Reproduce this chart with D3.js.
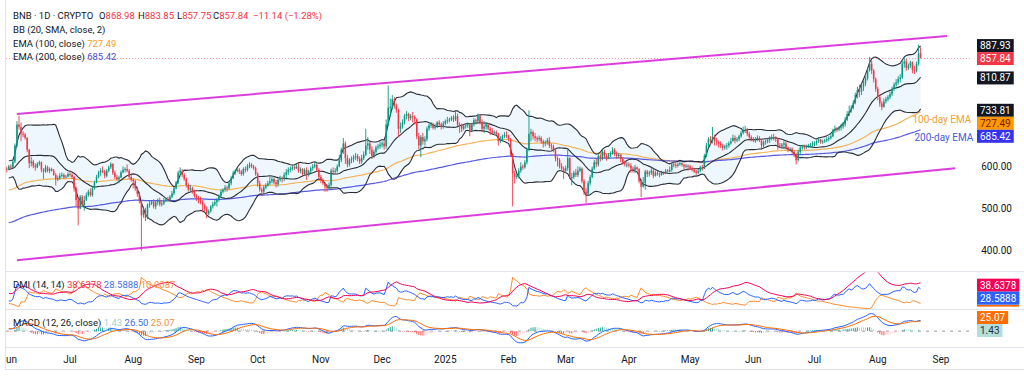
<!DOCTYPE html>
<html>
<head>
<meta charset="utf-8">
<script src="https://cdnjs.cloudflare.com/ajax/libs/d3/7.8.5/d3.min.js"></script>
<style>
html,body{margin:0;padding:0;background:#fff;}
svg{display:block;font-family:Roboto,"Noto Sans","DejaVu Sans",sans-serif;}
</style>
</head>
<body>
<svg id="chart" width="1024" height="376"></svg>
<script>
// ================= DATA =================
const startDate = "2024-05-01";   // first daily bar (May 2024 is warm-up, mostly off-screen)
const firstDrawn = "2024-06-01";
const firstOpen = 578;
const closes = [
 560,570,590,593,590,590,580,585,590,580,580,585,585,575,595,575,585,580,575,610,605,600,595,598,600,597,605,600,596,595,593,
 600,598,612,650,700,694,678,676,668,640,608,612,602,598,606,610,592,588,598,590,594,590,580,570,572,578,580,574,576,582,
 580,575,548,520,500,528,508,520,532,540,532,548,562,575,586,590,588,578,590,598,606,585,575,570,574,586,592,594,590,575,568,
 565,548,535,518,484,496,478,508,512,516,505,515,520,510,512,518,522,520,528,536,548,562,585,590,580,570,556,545,548,540,530,
 525,520,516,508,500,488,494,505,510,515,520,530,540,545,550,548,560,572,585,590,592,588,582,594,592,600,604,600,596,582,
 560,545,540,550,555,560,565,570,562,558,568,572,570,580,586,592,594,598,596,600,590,594,582,592,580,588,596,600,604,592,575,
 568,560,552,548,556,590,588,590,600,615,640,655,620,605,615,618,622,625,618,612,620,628,650,655,640,625,635,645,648,652,
 655,648,700,740,742,760,745,735,690,695,705,720,725,715,720,718,712,672,650,670,660,665,690,698,700,692,695,705,700,694,702,
 708,710,712,716,712,720,700,698,690,696,698,700,685,700,710,708,720,705,690,695,700,690,685,680,682,678,660,665,672,675,672,
 665,630,584,575,578,590,600,598,610,640,678,682,672,668,665,668,660,655,658,662,650,648,640,620,615,600,595,590,
 596,620,575,575,585,580,590,595,565,540,535,560,575,595,610,605,625,620,635,625,620,626,632,640,630,625,628,618,610,605,605,
 602,595,592,598,594,565,552,560,588,582,585,590,578,585,582,580,585,584,590,588,592,605,604,602,605,608,604,600,602,600,
 595,592,588,585,590,598,595,625,650,665,660,670,662,658,655,650,645,648,650,655,660,668,662,665,672,680,685,688,678,670,665,
 662,665,668,662,650,658,660,664,668,670,668,665,650,648,652,655,645,640,642,635,628,615,635,645,648,645,648,650,652,655,
 655,660,664,658,660,662,665,668,672,685,690,688,692,695,700,712,725,732,740,752,770,782,778,790,798,810,830,845,828,808,785,
 765,750,742,755,760,765,772,785,795,800,808,812,845,850,835,840,848,830,828,845,868.98,857.84
];
const highs = [
 582,575,592,598,596,602,594,590,594,595,584,588,590,588,598,597,590,588,583,612,618,610,605,602,604,603,610,608,604,600,600,
 604,605,616,655,708,721,705,684,680,670,642,622,616,608,610,614,612,596,604,602,598,597,594,584,578,584,586,584,580,586,
 590,584,578,552,524,532,532,530,538,545,548,552,566,580,590,596,600,592,594,602,610,608,590,580,578,590,600,598,605,594,580,
 572,568,552,540,520,505,502,512,520,520,522,520,524,526,520,525,526,528,532,542,552,566,590,598,594,584,574,560,556,552,545,
 534,530,528,520,512,505,498,508,516,520,524,534,545,548,556,554,565,578,590,594,596,596,592,598,600,606,610,608,604,600,
 586,566,550,555,560,566,575,575,574,568,572,578,576,586,594,598,600,604,602,606,608,598,596,596,598,592,600,606,612,608,596,
 580,572,562,558,562,595,598,596,605,628,645,668,660,628,620,624,628,632,630,624,628,636,690,670,662,648,640,650,654,660,
 660,662,712,793,762,770,765,750,738,705,712,725,732,728,725,730,722,715,680,675,680,672,695,702,706,704,702,708,710,705,708,
 712,718,716,720,722,734,726,705,702,700,702,705,702,704,715,714,726,724,712,708,705,704,694,692,686,686,680,672,676,682,684,
 676,668,632,590,586,596,610,605,615,645,734,690,686,680,672,674,672,664,662,668,670,655,652,644,624,620,608,600,
 602,640,622,585,590,594,600,600,598,570,548,566,580,600,616,618,630,630,640,640,630,632,636,646,644,636,632,630,622,614,612,
 610,608,600,604,600,596,570,575,592,592,590,596,594,590,590,586,590,588,594,594,600,610,612,608,610,612,610,606,606,605,
 604,600,594,592,594,602,604,630,656,670,672,694,676,668,662,660,654,652,656,660,668,676,674,670,676,685,695,697,692,682,674,
 670,670,674,672,666,662,664,668,672,676,678,672,668,656,656,662,660,648,646,646,638,632,640,650,652,652,652,654,656,660,
 660,664,670,666,664,666,670,672,678,690,698,694,696,702,706,718,732,745,746,758,776,790,795,798,805,815,836,861,852,832,812,
 790,770,755,762,766,770,778,790,800,808,815,820,852,861,856,845,852,850,840,850,890,883.85
];
const lows = [
 545,555,568,586,585,584,578,576,580,575,575,577,578,570,572,572,573,578,570,572,600,596,585,590,595,594,595,592,590,588,586,
 591,594,596,608,646,688,660,670,664,634,596,600,596,590,596,602,586,570,585,586,584,588,578,555,565,568,574,570,572,574,
 576,570,540,505,460,498,505,495,518,528,528,528,545,560,572,578,584,572,574,586,594,580,570,566,560,572,584,586,586,570,564,
 548,542,528,512,400,478,470,474,502,508,500,498,508,505,505,508,515,516,515,524,532,545,558,580,575,566,550,540,540,535,526,
 518,512,510,492,494,477,484,490,500,506,505,516,526,536,540,540,545,555,570,580,586,582,578,578,586,588,596,596,592,578,
 552,540,530,536,546,552,556,560,558,550,552,564,562,565,572,580,586,590,592,594,585,584,578,578,568,576,584,590,596,588,570,
 560,556,540,540,544,552,580,582,586,598,610,630,606,598,600,608,610,615,612,606,606,615,625,640,630,618,620,630,640,642,
 645,640,642,695,718,735,738,728,670,680,690,700,712,708,710,705,700,665,640,622,652,650,660,685,692,688,688,692,695,688,690,
 698,702,705,708,706,708,695,680,682,686,690,692,672,684,695,700,704,700,682,680,688,686,675,676,676,674,650,656,660,668,668,
 660,625,505,560,570,572,585,592,595,605,636,660,664,660,658,660,654,645,648,652,644,640,634,612,600,595,590,570,
 585,590,570,555,570,575,575,586,560,532,513,530,555,572,592,598,600,612,615,620,614,618,622,628,625,618,620,610,604,600,598,
 598,585,585,584,590,560,527,550,545,575,576,580,572,576,578,574,578,580,582,584,586,588,598,596,598,602,600,594,596,590,
 592,588,584,580,582,586,590,594,622,645,652,655,650,650,645,644,638,640,640,645,652,660,655,658,660,668,676,680,672,662,660,
 658,656,660,658,640,645,652,655,656,662,662,658,640,644,644,646,640,634,636,630,622,605,612,630,640,640,642,644,646,648,
 648,650,656,654,654,656,658,660,664,670,680,682,684,686,690,695,708,720,728,736,748,762,765,770,780,792,805,826,820,800,778,
 758,742,734,740,750,755,760,768,780,790,795,800,808,835,828,830,835,822,820,824,840,857.75
];
const ema100Start = 544;   // EMA(100) value on the first drawn day
const ema200Start = 466;   // EMA(200) value on the first drawn day
const channelTopPts = [["2024-06-05", 725], ["2025-09-04", 911]];
const channelBottomPts = [["2024-06-05", 377], ["2025-09-08", 596]];
const monthTicks = ["2024-06-01","2024-07-01","2024-08-01","2024-09-01","2024-10-01","2024-11-01","2024-12-01","2025-01-01","2025-02-01","2025-03-01","2025-04-01","2025-05-01","2025-06-01","2025-07-01","2025-08-01","2025-09-01"];
const monthLabels = ["Jun","Jul","Aug","Sep","Oct","Nov","Dec","2025","Feb","Mar","Apr","May","Jun","Jul","Aug","Sep"];
const priceTicks = [400, 500, 600];
const ohlcLetters = ["O","H","L","C"];
const ohlcValues = ["868.98","883.85","857.75","857.84"];
const changeText = "\u221211.14 (\u22121.28%)";
const bbLast = [887.93, 810.87, 733.81];      // upper, basis, lower
const lastClose = 857.84;
const emaLast = [727.49, 685.42];             // EMA100, EMA200
const dmiLast = ["38.6378","28.5888","10.0087"];  // ADX, +DI, -DI
const macdLast = ["1.43","26.50","25.07"];        // histogram, MACD, signal
const annotTexts = ["100-day EMA","200-day EMA"];
const annotDates = ["2025-08-18","2025-08-19"];
const annotPrices = [711, 670];

// ================= COMPUTE =================
const parseD = d3.utcParse("%Y-%m-%d");
const t0 = parseD(startDate).getTime();
const N = Math.min(closes.length, highs.length, lows.length);
const bars = d3.range(N).map(i => ({
  date: new Date(t0 + i * 864e5),
  o: i ? closes[i-1] : firstOpen, h: highs[i], l: lows[i], c: closes[i]
}));
const i0 = d3.bisector(d => d.date).left(bars, parseD(firstDrawn));
const C = bars.map(d => d.c);

function emaFrom(vals, n, start, seed) {
  const a = 2 / (n + 1), out = new Array(vals.length).fill(null);
  let e = seed;
  for (let i = start; i < vals.length; i++) { if (i > start) e += a * (vals[i] - e); out[i] = e; }
  return out;
}
function rma(vals, n) {
  const out = []; let p = null;
  vals.forEach(v => { p = p === null ? v : (p * (n - 1) + v) / n; out.push(p); });
  return out;
}
const ema100 = emaFrom(C, 100, i0, ema100Start);
const ema200 = emaFrom(C, 200, i0, ema200Start);
const bbMid = [], bbUp = [], bbLo = [];
C.forEach((c, i) => {
  if (i < 19) { bbMid.push(null); bbUp.push(null); bbLo.push(null); return; }
  const s = C.slice(i - 19, i + 1), m = d3.mean(s);
  const sd = Math.sqrt(d3.mean(s, v => (v - m) * (v - m)));
  bbMid.push(m); bbUp.push(m + 2 * sd); bbLo.push(m - 2 * sd);
});
// MACD
const e12 = emaFrom(C, 12, 0, C[0]), e26 = emaFrom(C, 26, 0, C[0]);
const macd = C.map((c, i) => e12[i] - e26[i]);
const signal = emaFrom(macd, 9, 0, macd[0]);
const hist = macd.map((m, i) => m - signal[i]);
// DMI
const tr = [], pdm = [], mdm = [];
bars.forEach((b, i) => {
  const pc = i ? bars[i-1].c : firstOpen;
  tr.push(Math.max(b.h - b.l, Math.abs(b.h - pc), Math.abs(b.l - pc)));
  const up = i ? b.h - bars[i-1].h : 0, dn = i ? bars[i-1].l - b.l : 0;
  pdm.push(up > dn && up > 0 ? up : 0);
  mdm.push(dn > up && dn > 0 ? dn : 0);
});
const trR = rma(tr, 14), pR = rma(pdm, 14), mR = rma(mdm, 14);
const plusDI = pR.map((v, i) => 100 * v / trR[i]);
const minusDI = mR.map((v, i) => 100 * v / trR[i]);
const adx = rma(plusDI.map((p, i) => { const s = p + minusDI[i]; return Math.abs(p - minusDI[i]) / (s === 0 ? 1 : s); }), 14).map(v => 100 * v);

// ================= SCALES =================
const svg = d3.select("#chart");
const plotL = 6, plotR = 972;
const x = d3.scaleUtc().domain([parseD("2024-07-01"), parseD("2025-09-01")]).range([70, 941]);
const y = d3.scaleLinear().domain([400, 900]).range([250.5, 40.5]);
const yD = d3.scaleLinear().domain([0, 59.5]).range([309.5, 272]);
const yM = d3.scaleLinear().domain([-40, 50]).range([348, 310]);

const defs = svg.append("defs");
function clip(id, y0, y1) {
  defs.append("clipPath").attr("id", id).append("rect").attr("x", plotL).attr("y", y0).attr("width", plotR - plotL).attr("height", y1 - y0);
  return "url(#" + id + ")";
}
const gMain = svg.append("g").attr("clip-path", clip("cm", 0, 271));
const gDmi = svg.append("g").attr("clip-path", clip("cd", 272.5, 309));
const gMacd = svg.append("g").attr("clip-path", clip("cmc", 310, 347));

// separators / frame
const sepCol = "#e0e3eb";
[271.5, 309.5, 347.5, 369.5].forEach(v => svg.append("line").attr("x1", 5).attr("x2", 1024).attr("y1", v).attr("y2", v).attr("stroke", sepCol));
svg.append("line").attr("x1", 5.5).attr("x2", 5.5).attr("y1", 0).attr("y2", 370).attr("stroke", sepCol);

const vis = bars.map((b, i) => i).filter(i => i >= i0 - 1);
const drawIdx = bars.map((b, i) => i).filter(i => i >= i0);
function lineOf(arr, sy) {
  return d3.line().defined(i => arr[i] != null).x(i => x(bars[i].date)).y(i => sy(arr[i]))(drawIdx);
}

// Bollinger fill
gMain.append("path")
  .attr("d", d3.area().x(i => x(bars[i].date)).y0(i => y(bbLo[i])).y1(i => y(bbUp[i]))(drawIdx))
  .attr("fill", "#2196f3").attr("fill-opacity", 0.08);
// EMAs
gMain.append("path").attr("d", lineOf(ema100, y)).attr("fill", "none").attr("stroke", "#f2b35a").attr("stroke-width", 1.2);
gMain.append("path").attr("d", lineOf(ema200, y)).attr("fill", "none").attr("stroke", "#5a5ae0").attr("stroke-width", 1.2);
// BB lines
[bbUp, bbMid, bbLo].forEach(a => gMain.append("path").attr("d", lineOf(a, y)).attr("fill", "none").attr("stroke", "#2a2e39").attr("stroke-width", 1.1));

// candles
const upCol = "#089981", dnCol = "#f23645", bw = 1.5;
const cg = gMain.append("g");
cg.selectAll("line").data(vis).join("line")
  .attr("x1", i => x(bars[i].date)).attr("x2", i => x(bars[i].date))
  .attr("y1", i => y(bars[i].h)).attr("y2", i => y(bars[i].l))
  .attr("stroke", i => bars[i].c >= bars[i].o ? upCol : dnCol).attr("stroke-width", 0.9);
cg.selectAll("rect").data(vis).join("rect")
  .attr("x", i => x(bars[i].date) - bw / 2).attr("width", bw)
  .attr("y", i => y(Math.max(bars[i].o, bars[i].c)))
  .attr("height", i => Math.max(1, Math.abs(y(bars[i].o) - y(bars[i].c))))
  .attr("fill", i => bars[i].c >= bars[i].o ? upCol : dnCol);

// price line
svg.append("line").attr("x1", plotL).attr("x2", plotR).attr("y1", Math.round(y(lastClose)) + 0.5).attr("y2", Math.round(y(lastClose)) + 0.5)
  .attr("stroke", "#f23645").attr("stroke-opacity", 0.5).attr("stroke-dasharray", "1,2");

// channel
[channelTopPts, channelBottomPts].forEach(pts => {
  svg.append("line")
    .attr("x1", x(parseD(pts[0][0]))).attr("y1", y(pts[0][1]))
    .attr("x2", x(parseD(pts[1][0]))).attr("y2", y(pts[1][1]))
    .attr("stroke", "#dd3ddd").attr("stroke-width", 2);
});

// annotations
const annotCols = ["#f0a030", "#4a5ad8"];
annotTexts.forEach((t, k) => svg.append("text").attr("x", x(parseD(annotDates[k]))).attr("y", y(annotPrices[k]) + 3.5)
  .attr("font-size", 10).attr("fill", annotCols[k]).text(t));

// DMI lines
gDmi.append("path").attr("d", lineOf(minusDI, yD)).attr("fill", "none").attr("stroke", "#ff8a2a").attr("stroke-width", 1);
gDmi.append("path").attr("d", lineOf(plusDI, yD)).attr("fill", "none").attr("stroke", "#2962ff").attr("stroke-width", 1);
gDmi.append("path").attr("d", lineOf(adx, yD)).attr("fill", "none").attr("stroke", "#f50057").attr("stroke-width", 1);

// MACD
gMacd.append("line").attr("x1", plotL).attr("x2", plotR).attr("y1", yM(0)).attr("y2", yM(0))
  .attr("stroke", "#9598a1").attr("stroke-dasharray", "3,5").attr("stroke-width", 1);
gMacd.selectAll("rect").data(drawIdx).join("rect")
  .attr("x", i => x(bars[i].date) - 0.5).attr("width", 1)
  .attr("y", i => Math.min(yM(0), yM(hist[i]))).attr("height", i => Math.max(0.5, Math.abs(yM(hist[i]) - yM(0))))
  .attr("fill", i => hist[i] >= 0 ? (hist[i] > hist[i-1] ? "#26a69a" : "#b2dfdb") : (hist[i] < hist[i-1] ? "#ff5252" : "#ffcdd2"));
gMacd.append("path").attr("d", lineOf(macd, yM)).attr("fill", "none").attr("stroke", "#2962ff").attr("stroke-width", 1);
gMacd.append("path").attr("d", lineOf(signal, yM)).attr("fill", "none").attr("stroke", "#ff6d00").attr("stroke-width", 1);

// ================= TEXT =================
const txtCol = "#131722", fs = 9.5;
function txt(xp, yp, s, col, size) {
  return svg.append("text").attr("x", xp).attr("y", yp).attr("font-size", size || fs).attr("fill", col || txtCol).text(s);
}
txt(13, 18.5, "BNB \u00b7 1D \u00b7 CRYPTO");
const ohlcX = [99, 138, 177, 213];
ohlcLetters.forEach((L, k) => {
  const t = txt(ohlcX[k], 18.5, L);
  t.append("tspan").attr("fill", "#f23645").text(ohlcValues[k]);
});
txt(253, 18.5, changeText, "#f23645");
txt(13, 33, "BB (20, SMA, close, 2)");
txt(13, 46.5, "EMA (100, close) ").append("tspan").attr("fill", "#f5a020").text(emaLast[0].toFixed(2));
txt(13, 60, "EMA (200, close) ").append("tspan").attr("fill", "#4b4bd8").text(emaLast[1].toFixed(2));
// DMI legend
const dl = txt(13, 287.5, "DMI (14, 14) ");
const dCols = ["#f23645", "#3f6fe8", "#f09040"];
dmiLast.forEach((v, k) => dl.append("tspan").attr("fill", dCols[k]).text((k ? "  " : "") + v));
const ml = txt(13, 325.5, "MACD (12, 26, close) ");
const mCols = ["#9fd3cc", "#3f6fe8", "#f09040"];
macdLast.forEach((v, k) => ml.append("tspan").attr("fill", mCols[k]).text((k ? "  " : "") + v));

// time axis
const ta = svg.append("g").attr("clip-path", clip("ct", 350, 370));
monthTicks.forEach((d, k) => ta.append("text").attr("x", x(parseD(d))).attr("y", 362.5).attr("text-anchor", "middle")
  .attr("font-size", 10).attr("fill", txtCol).text(monthLabels[k]));

// price axis labels
priceTicks.forEach(p => svg.append("text").attr("x", 1012).attr("y", y(p) + 3.5).attr("text-anchor", "end")
  .attr("font-size", 10).attr("fill", txtCol).text(p.toFixed(2)));

// badges
function badge(yc, label, bg, fg) {
  const g = svg.append("g");
  const r = g.append("rect").attr("x", 977).attr("y", yc - 6.5).attr("height", 13).attr("fill", bg);
  const t = g.append("text").attr("x", 980).attr("y", yc + 3.5).attr("font-size", 10).attr("fill", fg).text(label);
  r.attr("width", t.node().getComputedTextLength() + 6);
}
function stack(items, gap) {
  items.sort((a, b) => a.y - b.y);
  for (let k = 1; k < items.length; k++) if (items[k].y < items[k-1].y + gap) items[k].y = items[k-1].y + gap;
  return items;
}
stack([
  { v: bbLast[0], bg: "#131722", fg: "#fff" },
  { v: lastClose, bg: "#f23645", fg: "#fff" },
  { v: bbLast[1], bg: "#131722", fg: "#fff" },
  { v: bbLast[2], bg: "#131722", fg: "#fff" },
  { v: emaLast[0], bg: "#ff9800", fg: "#7a1a00" },
  { v: emaLast[1], bg: "#3434f0", fg: "#fff" }
].map(o => Object.assign(o, { y: y(o.v) })), 13).forEach(o => badge(o.y, o.v.toFixed(2), o.bg, o.fg));

// DMI badges: the -DI one sits behind the +DI badge, only its lower edge shows
const dItems = stack([
  { v: dmiLast[0], bg: "#f50057" }, { v: dmiLast[1], bg: "#2962ff" }
].map(o => Object.assign(o, { y: yD(+o.v) })), 13);
svg.append("rect").attr("x", 977).attr("y", dItems[1].y + 6.5).attr("width", 42).attr("height", 2).attr("fill", "#ff6d00");
dItems.forEach(o => badge(o.y, o.v, o.bg, "#fff"));
badge(yM(+macdLast[2]) - 3, macdLast[2], "#ff6d00", "#fff");
badge(yM(+macdLast[0]), macdLast[0], "#b2dfdb", "#2a2e39");
</script>
</body>
</html>
